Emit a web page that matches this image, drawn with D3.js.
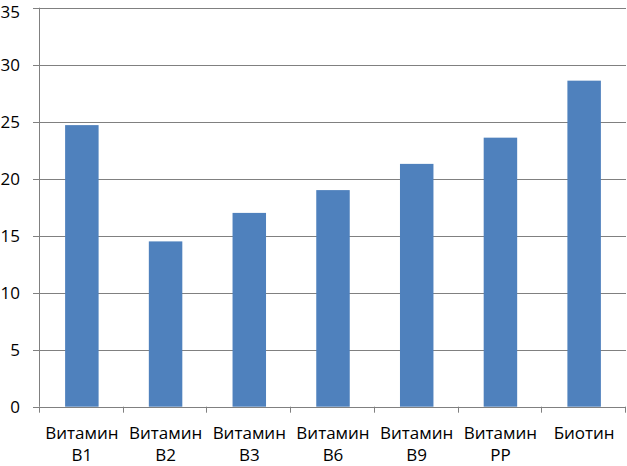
<!DOCTYPE html>
<html>
<head>
<meta charset="utf-8">
<script src="https://cdn.jsdelivr.net/npm/d3@7"></script>
<style>
  html, body { margin: 0; padding: 0; background: #fff; }
  svg { display: block; }
</style>
</head>
<body>
<svg id="chart" width="627" height="466"></svg>
<script>
const categories = [["Витамин", "B1"], ["Витамин", "B2"], ["Витамин", "B3"], ["Витамин", "B6"], ["Витамин", "B9"], ["Витамин", "PP"], ["Биотин"]];
const values = [24.7, 14.5, 17.0, 19.0, 21.3, 23.6, 28.6];
const yTicks = [0, 5, 10, 15, 20, 25, 30, 35];

const svg = d3.select("#chart");
const margin = { left: 40, right: 1, top: 7.7, bottom: 59.3 };
const W = 627, H = 466;
const font = "'Open Sans', sans-serif";

const x = d3.scaleBand()
  .domain(d3.range(categories.length))
  .range([margin.left, W - margin.right])
  .paddingInner(0.6).paddingOuter(0.3);
const xOuter = d3.scaleBand()
  .domain(d3.range(categories.length))
  .range([margin.left, W - margin.right]);
const y = d3.scaleLinear().domain([0, 35]).range([H - margin.bottom, margin.top]);

const grid = "#808080";

// gridlines with left tick marks
svg.append("g").selectAll("line").data(yTicks).join("line")
  .attr("x1", margin.left - 7).attr("x2", W - margin.right)
  .attr("y1", d => Math.round(y(d)) + 0.5).attr("y2", d => Math.round(y(d)) + 0.5)
  .attr("stroke", grid).attr("stroke-width", 1);

// y axis line
svg.append("line")
  .attr("x1", margin.left - 0.5).attr("x2", margin.left - 0.5)
  .attr("y1", y(35)).attr("y2", y(0))
  .attr("stroke", grid);

// y tick labels
svg.append("g").selectAll("text").data(yTicks).join("text")
  .attr("x", 20).attr("y", d => y(d))
  .attr("dy", d => d === 35 ? "0.62em" : "0.38em")
  .attr("text-anchor", "end")
  .attr("font-family", font).attr("font-size", 17)
  .attr("fill", "#000")
  .text(d => d);

// bars
svg.append("g").selectAll("rect").data(values).join("rect")
  .attr("x", (d, i) => x(i))
  .attr("width", x.bandwidth())
  .attr("y", d => y(d))
  .attr("height", d => y(0) - y(d))
  .attr("fill", "#4F81BD");

// x axis tick marks
const bounds = d3.range(categories.length + 1).map(i => i < categories.length ? xOuter(i) : W - margin.right);
svg.append("g").selectAll("line").data(bounds).join("line")
  .attr("x1", d => Math.round(d) - 0.5).attr("x2", d => Math.round(d) - 0.5)
  .attr("y1", y(0)).attr("y2", y(0) + 6)
  .attr("stroke", grid);

// category labels
const lab = svg.append("g").selectAll("text").data(categories).join("text")
  .attr("font-family", font).attr("font-size", 17)
  .attr("fill", "#000")
  .attr("text-anchor", "middle");
lab.each(function(d, i) {
  const t = d3.select(this);
  d.forEach((line, j) => {
    t.append("tspan")
      .attr("x", xOuter(i) + xOuter.bandwidth() / 2)
      .attr("y", 439 + j * 22)
      .text(line);
  });
});
</script>
</body>
</html>
